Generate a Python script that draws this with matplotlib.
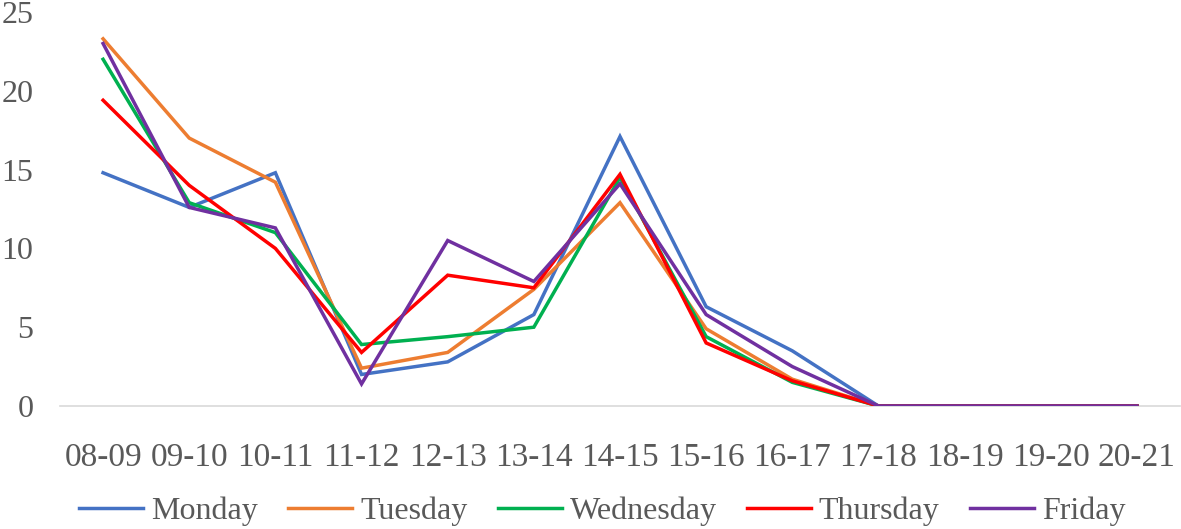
import matplotlib
matplotlib.use("Agg")
import matplotlib.pyplot as plt

hours = ["08-09", "09-10", "10-11", "11-12", "12-13", "13-14", "14-15",
         "15-16", "16-17", "17-18", "18-19", "19-20", "20-21"]

monday = [14.8, 12.6, 14.8, 2.0, 2.8, 5.8, 17.1, 6.3, 3.5, 0, 0, 0, 0]
tuesday = [23.3, 17.0, 14.2, 2.4, 3.4, 7.4, 12.9, 4.9, 1.7, 0, 0, 0, 0]
wednesday = [22.0, 12.9, 11.0, 3.9, 4.4, 5.0, 14.5, 4.4, 1.5, 0, 0, 0, 0]
thursday = [19.4, 14.0, 10.0, 3.4, 8.3, 7.5, 14.7, 4.0, 1.6, 0, 0, 0, 0]
friday = [23.0, 12.6, 11.3, 1.4, 10.5, 7.9, 14.1, 5.8, 2.5, 0, 0, 0, 0]

series = [
    ("Monday", monday, "#4472C4"),
    ("Tuesday", tuesday, "#ED7D31"),
    ("Wednesday", wednesday, "#00B050"),
    ("Thursday", thursday, "#FF0000"),
    ("Friday", friday, "#7030A0"),
]

plt.rcParams["font.family"] = ["Liberation Serif", "DejaVu Serif"]
text_color = "#595959"

fig = plt.figure(figsize=(11.81, 5.29), dpi=100)
ax = fig.add_axes([60 / 1181, 123 / 529, 1120 / 1181, 394 / 529])

x = list(range(len(hours)))
for name, vals, color in series:
    ax.plot(x, vals, color=color, lw=2.5, label=name, solid_joinstyle="miter")

ax.set_xlim(-0.5, len(hours) - 0.5)
ax.set_ylim(0, 25)
ax.set_yticks([0, 5, 10, 15, 20, 25])
ax.set_xticks(x)
ax.set_xticklabels(hours)
ax.tick_params(length=0, colors=text_color)
ax.tick_params(axis="x", pad=26, labelsize=24)
ax.tick_params(axis="y", pad=19, labelsize=23)

for s in ["top", "right", "left"]:
    ax.spines[s].set_visible(False)
ax.spines["bottom"].set_color("#D9D9D9")
ax.spines["bottom"].set_linewidth(1.2)
ax.spines["bottom"].set_zorder(0)

leg = fig.legend(loc="center", bbox_to_anchor=(0.51, 0.034), ncol=5,
                 frameon=False, fontsize=23, handlelength=2.0,
                 handletextpad=0.25, columnspacing=0.95)
for t in leg.get_texts():
    t.set_color(text_color)

fig.savefig("out.png", dpi=100)
